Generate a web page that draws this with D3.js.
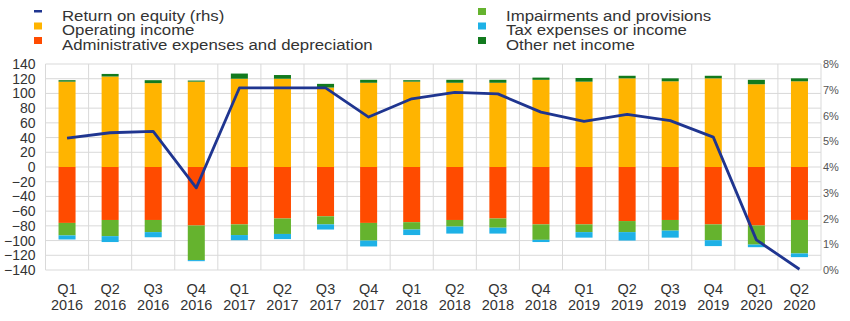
<!DOCTYPE html>
<html>
<head>
<meta charset="utf-8">
<script src="https://cdn.jsdelivr.net/npm/d3@7"></script>
<style>
  body { margin: 0; background: #fff; }
  svg { display: block; font-family: "Liberation Sans", Arial, sans-serif; }
</style>
</head>
<body>
<svg id="chart" width="850" height="321"></svg>
<script>
// Quarter labels (two lines each)
var quarters = ["Q1 2016", "Q2 2016", "Q3 2016", "Q4 2016", "Q1 2017", "Q2 2017", "Q3 2017", "Q4 2017",
    "Q1 2018", "Q2 2018", "Q3 2018", "Q4 2018", "Q1 2019", "Q2 2019", "Q3 2019", "Q4 2019", "Q1 2020", "Q2 2020"];

// Positive components (left axis)
var operatingIncome = [116, 123, 114, 116, 120, 120, 108, 114.5, 116, 114.5, 114.5, 118.5, 116, 120.5, 116.5, 120.5, 112.5, 116.5];
var otherNetIncome = [2, 3.5, 4, 1.5, 7, 5, 5, 4, 2, 4, 4, 3, 5, 3.5, 4, 3.5, 6, 4];

// Negative components (left axis)
var adminExpenses = [-76, -72, -72, -79.5, -78, -70, -67, -76, -75, -72, -70, -78, -78, -73.5, -72, -78, -79.5, -72];
var impairments = [-17, -22, -16.5, -47, -14.5, -21, -11, -24, -10, -9, -12.5, -21, -10.5, -15, -14.5, -21.5, -26, -45.5];
var taxExpenses = [-5.5, -8, -7, -1.5, -7, -7, -7, -8, -7.5, -9.5, -8, -3, -7.5, -11.5, -9.5, -8, -3.5, -5];

// Return on equity, percent (right axis)
var returnOnEquity = [5.12, 5.33, 5.38, 3.19, 7.07, 7.07, 7.07, 5.94, 6.65, 6.9, 6.84, 6.13, 5.77, 6.04, 5.8, 5.16, 1.17, 0.03];

var leftTicks = [-140, -120, -100, -80, -60, -40, -20, 0, 20, 40, 60, 80, 100, 120, 140];
var rightTicks = [0, 1, 2, 3, 4, 5, 6, 7, 8];

var colors = {
    roe: "#1f3590",
    operating: "#ffb400",
    admin: "#ff4b00",
    impairments: "#65b32e",
    tax: "#1eb1e6",
    other: "#127a1e"
};

var svg = d3.select("#chart");
var plot = { left: 45.5, right: 821, top: 64, bottom: 270 };

var x = d3.scaleBand()
    .domain(quarters)
    .range([plot.left, plot.right])
    .paddingInner(0.605)
    .paddingOuter(0.3025);
var step = x.step();

var yLeft = d3.scaleLinear().domain([-140, 140]).range([plot.bottom, plot.top]);
var yRight = d3.scaleLinear().domain([0, 8]).range([plot.bottom, plot.top]);

//Gridlines
var grid = svg.append("g");
grid.selectAll("line.h")
    .data(leftTicks)
    .enter().append("line")
    .attr("x1", plot.left).attr("x2", plot.right)
    .attr("y1", function (d) { return yLeft(d); })
    .attr("y2", function (d) { return yLeft(d); })
    .attr("stroke", "#d9d9d9").attr("stroke-width", 1);

grid.selectAll("line.v")
    .data(d3.range(quarters.length + 1))
    .enter().append("line")
    .attr("x1", function (i) { return plot.left + i * step; })
    .attr("x2", function (i) { return plot.left + i * step; })
    .attr("y1", plot.top).attr("y2", plot.bottom)
    .attr("stroke", "#d9d9d9").attr("stroke-width", 1);

//Build stacked segments from the arrays
var segments = [];
quarters.forEach(function (q, i) {
    var pos = 0, neg = 0;
    [["operating", operatingIncome[i]], ["other", otherNetIncome[i]]].forEach(function (s) {
        segments.push({ q: q, key: s[0], y0: pos, y1: pos + s[1] });
        pos += s[1];
    });
    [["admin", adminExpenses[i]], ["impairments", impairments[i]], ["tax", taxExpenses[i]]].forEach(function (s) {
        segments.push({ q: q, key: s[0], y0: neg, y1: neg + s[1] });
        neg += s[1];
    });
});

svg.append("g").selectAll("rect")
    .data(segments)
    .enter().append("rect")
    .attr("x", function (d) { return x(d.q); })
    .attr("width", x.bandwidth())
    .attr("y", function (d) { return Math.min(yLeft(d.y0), yLeft(d.y1)); })
    .attr("height", function (d) { return Math.abs(yLeft(d.y0) - yLeft(d.y1)); })
    .attr("fill", function (d) { return colors[d.key]; });

//Return on equity line
var line = d3.line()
    .x(function (d, i) { return x(quarters[i]) + x.bandwidth() / 2; })
    .y(function (d) { return yRight(d); });

svg.append("path")
    .datum(returnOnEquity)
    .attr("d", line)
    .attr("fill", "none")
    .attr("stroke", colors.roe)
    .attr("stroke-width", 2.8)
    .attr("stroke-linejoin", "round");

//Left axis
var leftAxis = svg.append("g")
    .attr("transform", "translate(" + (plot.left - 10) + ",0)")
    .call(d3.axisLeft(yLeft).tickValues(leftTicks).tickSize(0).tickPadding(0));
leftAxis.select(".domain").remove();
leftAxis.selectAll("text")
    .attr("font-size", 14)
    .attr("font-family", "Liberation Sans, Arial, sans-serif")
    .attr("fill", "#333");

//Right axis
var rightAxis = svg.append("g")
    .attr("transform", "translate(" + (plot.right + 2) + ",0)")
    .call(d3.axisRight(yRight).tickValues(rightTicks).tickSize(0).tickPadding(0)
        .tickFormat(function (d) { return d + "%"; }));
rightAxis.select(".domain").remove();
rightAxis.selectAll("text")
    .attr("font-size", 11)
    .attr("font-family", "Liberation Sans, Arial, sans-serif")
    .attr("fill", "#555");

//Category labels, two lines
var xLabels = svg.append("g").selectAll("text")
    .data(quarters)
    .enter().append("text")
    .attr("x", function (d) { return x(d) + x.bandwidth() / 2; })
    .attr("y", 294)
    .attr("text-anchor", "middle")
    .attr("font-size", 14.5)
    .attr("fill", "#333");
xLabels.append("tspan")
    .attr("x", function (d) { return x(d) + x.bandwidth() / 2; })
    .text(function (d) { return d.split(" ")[0]; });
xLabels.append("tspan")
    .attr("x", function (d) { return x(d) + x.bandwidth() / 2; })
    .attr("dy", 15.5)
    .text(function (d) { return d.split(" ")[1]; });

//Legend
var legendItems = [
    { label: "Return on equity (rhs)", key: "roe", col: 0, row: 0, line: true },
    { label: "Operating income", key: "operating", col: 0, row: 1 },
    { label: "Administrative expenses and depreciation", key: "admin", col: 0, row: 2 },
    { label: "Impairments and provisions", key: "impairments", col: 1, row: 0 },
    { label: "Tax expenses or income", key: "tax", col: 1, row: 1 },
    { label: "Other net income", key: "other", col: 1, row: 2 }
];
var legendCols = [34, 478];

var legend = svg.append("g").selectAll("g")
    .data(legendItems)
    .enter().append("g")
    .attr("transform", function (d) { return "translate(" + legendCols[d.col] + "," + (d.row * 14.5) + ")"; });

legend.each(function (d) {
    var g = d3.select(this);
    if (d.line) {
        g.append("rect").attr("x", 0).attr("y", 10).attr("width", 8).attr("height", 2.5).attr("fill", colors[d.key]);
    } else {
        g.append("rect").attr("x", 0).attr("y", 8).attr("width", 8).attr("height", 7).attr("fill", colors[d.key]);
    }
    //The source text is slightly stretched horizontally
    g.append("text")
        .attr("transform", "translate(28,20.5) scale(1.12,1)")
        .attr("font-size", 15)
        .attr("fill", "#333")
        .text(d.label);
});
</script>
</body>
</html>
